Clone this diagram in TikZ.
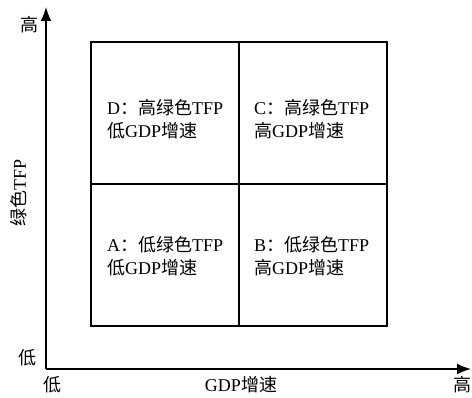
\documentclass[tikz,border=0pt]{standalone}
\usepackage{fontspec}
\setmainfont{Liberation Serif}
\newfontfamily\cjk{Noto Sans CJK SC}
\usetikzlibrary{arrows.meta}
\newcommand{\zh}[1]{{\cjk #1}}
\begin{document}
\begin{tikzpicture}[x=1pt,y=1pt,
  axis/.style={line width=1.6pt,-{Latex[length=14pt,width=11pt]}},
  grid/.style={line width=1.5pt},
  lbl/.style={font=\fontsize{18}{22.5}\selectfont,inner sep=0pt},
  qtext/.style={lbl,anchor=west,align=left}]
\useasboundingbox (0,0) rectangle (472,398);
% axes
\coordinate (O) at (46,29);
\coordinate (Ytop) at (46,391);
\coordinate (Xend) at (471,29);
\draw[axis] (O) -- (Ytop);
\draw[axis] (O) -- (Xend);
% grid
\coordinate (BL) at (91,72);
\coordinate (TR) at (387,356);
\coordinate (M) at (239,214);
\draw[grid] (BL) rectangle (TR);
\draw[grid] (M |- BL) -- (M |- TR);
\draw[grid] (BL |- M) -- (TR |- M);
% axis labels
\node[lbl] (yhi) at (29,373) {\zh{高}};
\node[lbl] (ylo) at (28,40) {\zh{低}};
\node[lbl] (xlo) at (52,13) {\zh{低}};
\node[lbl] (xhi) at (462.5,13) {\zh{高}};
\node[lbl] (xlab) at (241,13) {GDP\zh{增速}};
\node[lbl,rotate=90] (ylab) at (19,205) {\zh{绿色}TFP};
% quadrants
\node[qtext] (D) at (107,279) {D\zh{：高绿色}TFP\\\zh{低}GDP\zh{增速}};
\node[qtext] (C) at (254,279) {C\zh{：高绿色}TFP\\\zh{高}GDP\zh{增速}};
\node[qtext] (A) at (107,142) {A\zh{：低绿色}TFP\\\zh{低}GDP\zh{增速}};
\node[qtext] (B) at (254,142) {B\zh{：低绿色}TFP\\\zh{高}GDP\zh{增速}};
\end{tikzpicture}
\end{document}
